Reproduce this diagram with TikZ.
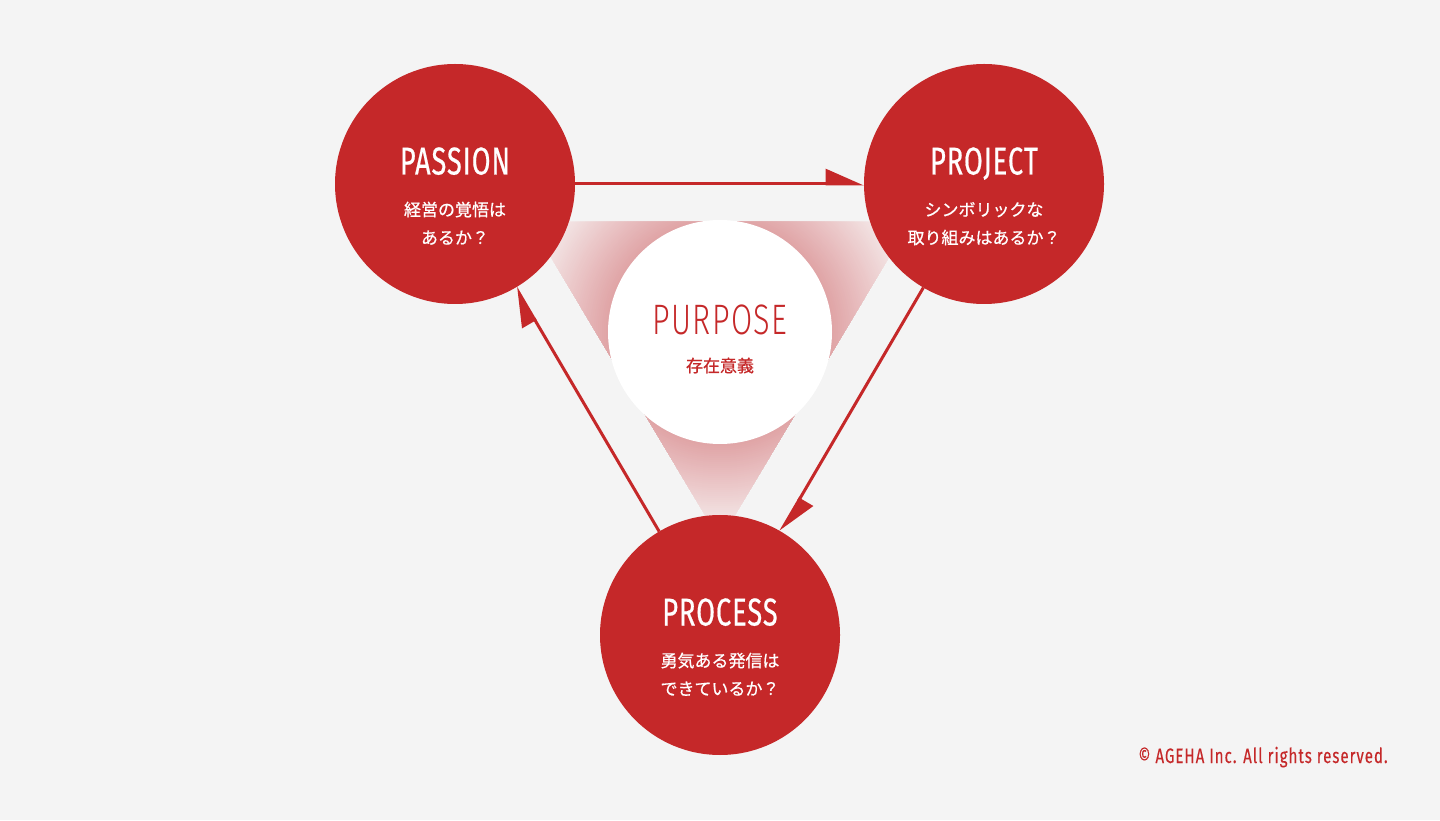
\documentclass[tikz,border=0pt]{standalone}
\usepackage{fontspec}
\usetikzlibrary{arrows.meta}
\setmainfont{Fira Sans}
\newfontfamily\titlefont[FakeStretch=0.7, LetterSpace=2.5, FakeBold=0.5]{Fira Sans}
\newfontfamily\thinfont[FakeStretch=0.72, LetterSpace=3]{Fira Sans Light}
\newfontfamily\smallfont[FakeStretch=0.72, LetterSpace=5, FakeBold=0.3]{Fira Sans}
\newfontfamily\jpfont[FakeBold=0.7]{Noto Sans CJK JP}
\definecolor{agehaRed}{RGB}{197,40,41}
\definecolor{bgGray}{RGB}{244,244,244}
\definecolor{glowDark}{RGB}{224,163,165}
\definecolor{glowLight}{RGB}{246,238,238}

\begin{document}
\begin{tikzpicture}[x=0.5pt, y=0.5pt,
    redcircle/.style={circle, fill=agehaRed, minimum size=\bigSize, inner sep=0pt, outer sep=0pt},
    corecircle/.style={circle, fill=white, minimum size=\coreSize, inner sep=0pt, outer sep=0pt},
    titletext/.style={anchor=base, inner sep=0pt, text=white, font=\titlefont\fontsize{19.4pt}{20pt}\selectfont},
    jptext/.style={anchor=base, inner sep=0pt, text=white, font=\jpfont\fontsize{8.5pt}{10pt}\selectfont},
    loopArrow/.style={draw=agehaRed, line width=1.5pt, -{Triangle[left, length=17.5pt, width=15pt]}}]
% Constants
\def\bigSize{120pt} % Diameter of the red circles
\def\coreSize{112pt} % Diameter of the white circle
\def\titleShift{4.75pt} % Baseline of the titles above the centre
\def\lineAShift{-16pt} % Baseline of the first Japanese line
\def\lineBShift{-30pt} % Baseline of the second Japanese line

% Background
\fill[bgGray] (0,0) rectangle (1440,820);
\useasboundingbox (0,0) rectangle (1440,820);

\coordinate (purpose-center) at (720,488);

% Glow triangle behind the purpose circle, faded ring by ring
\begin{scope}
    \clip (530,598) -- (910,598) -- (720,280) -- cycle;
    \fill[glowLight] (500,250) rectangle (940,620);
    \foreach \i in {0,...,44} {
        \pgfmathsetmacro\ringRadius{200-2*\i}
        \pgfmathsetmacro\ringMix{100*\i/44}
        \fill[glowDark!\ringMix!glowLight] (purpose-center) circle (\ringRadius);
    }
\end{scope}

% Purpose in the middle
\node[corecircle] (purpose) at (purpose-center) {};
\node[anchor=base, inner sep=0pt, text=agehaRed, font=\thinfont\fontsize{21.3pt}{22pt}\selectfont] (purpose-title) at ([yshift=-1.15pt]purpose.center) {PURPOSE};
\node[anchor=base, inner sep=0pt, text=agehaRed, font=\jpfont\fontsize{8.5pt}{10pt}\selectfont] (purpose-line) at ([yshift=-20pt]purpose.center) {存在意義};

% Draw the three red circles
\foreach \name/\x/\y in {passion/455/636, project/984/636, process/720/185} {
    \node[redcircle] (\name) at (\x,\y) {};
}

% Titles and questions inside the red circles
\foreach \name/\title/\lineA/\lineB in {passion/PASSION/経営の覚悟は/あるか？, project/PROJECT/シンボリックな/取り組みはあるか？, process/PROCESS/勇気ある発信は/できているか？} {
    \node[titletext] (\name-title) at ([yshift=\titleShift]\name.center) {\title};
    \node[jptext] (\name-lineA) at ([yshift=\lineAShift]\name.center) {\lineA};
    \node[jptext] (\name-lineB) at ([yshift=\lineBShift]\name.center) {\lineB};
}

% Arrows round the cycle
\draw[loopArrow] (passion) -- (project);
\draw[loopArrow] (project) -- (process);
\draw[loopArrow] (process) -- (passion);

% Copyright
\node[anchor=base east, inner sep=0pt, text=agehaRed, font=\smallfont\fontsize{10.4pt}{12pt}\selectfont] (copyright) at (1388,57) {© AGEHA Inc. All rights reserved.};

\end{tikzpicture}
\end{document}
